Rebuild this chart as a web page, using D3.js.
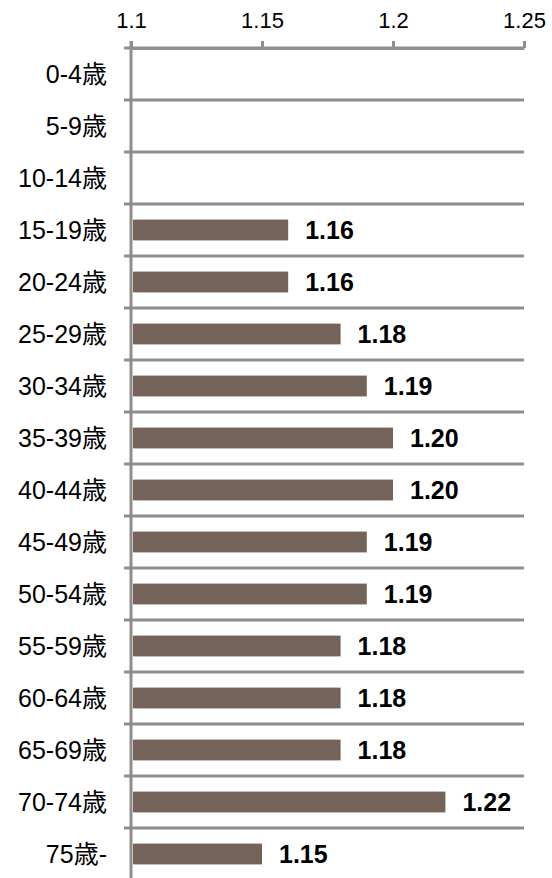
<!DOCTYPE html>
<html>
<head>
<meta charset="utf-8">
<script src="https://cdn.jsdelivr.net/npm/d3@7"></script>
<style>
  body { margin: 0; background: #fff; }
  text { font-family: "Liberation Sans", Arial, "Noto Sans CJK JP", sans-serif; fill: #000; }
</style>
</head>
<body>
<svg id="chart" width="552" height="878"></svg>
<script>
/* age groups, top to bottom */
var ageGroups = ["0-4歳", "5-9歳", "10-14歳", "15-19歳", "20-24歳", "25-29歳", "30-34歳",
  "35-39歳", "40-44歳", "45-49歳", "50-54歳", "55-59歳", "60-64歳", "65-69歳", "70-74歳", "75歳-"];
/* ratio per age group (no bar for the first three) */
var ratios = [null, null, null, 1.16, 1.16, 1.18, 1.19, 1.20, 1.20, 1.19, 1.19, 1.18, 1.18, 1.18, 1.22, 1.15];
var xTicks = [1.1, 1.15, 1.2, 1.25];

var svg = d3.select("#chart");
var gridColor = "#8e8e8e";

var x = d3.scaleLinear().domain([1.1, 1.25]).range([131, 524]);
var y = d3.scaleBand().domain(ageGroups).range([48, 880])
    .paddingInner(0.6).paddingOuter(0.3);

var rows = ageGroups.map(function(g, i) { return {group: g, value: ratios[i]}; });

/* horizontal lines between categories */
svg.append("g").selectAll("line")
  .data(ageGroups)
  .enter().append("line")
    .attr("x1", 124)
    .attr("x2", x(1.25))
    .attr("y1", function(d) { return y(d) - y.step() * y.paddingOuter(); })
    .attr("y2", function(d) { return y(d) - y.step() * y.paddingOuter(); })
    .attr("stroke", gridColor)
    .attr("stroke-width", 3);

/* top axis */
var xAxis = svg.append("g")
    .attr("transform", "translate(0,48)")
    .call(d3.axisTop(x).tickValues(xTicks).tickSize(7).tickSizeOuter(0)
      .tickFormat(function(d) { return String(d); }));
xAxis.select(".domain").attr("stroke", gridColor).attr("stroke-width", 3);
xAxis.selectAll(".tick line").attr("stroke", gridColor).attr("stroke-width", 3);
xAxis.selectAll(".tick text")
    .attr("y", -20)
    .attr("dy", 0)
    .style("font-size", "22px")
    .style("font-family", "'Liberation Sans', Arial, sans-serif")
    .attr("fill", "#000");

/* bars */
svg.append("g").selectAll("rect")
  .data(rows.filter(function(d) { return d.value != null; }))
  .enter().append("rect")
    .attr("x", x(1.1) + 2)
    .attr("y", function(d) { return y(d.group); })
    .attr("width", function(d) { return x(d.value) - x(1.1) - 2; })
    .attr("height", y.bandwidth())
    .attr("fill", "#736358");

/* left axis line */
svg.append("line")
    .attr("x1", x(1.1)).attr("x2", x(1.1))
    .attr("y1", 41).attr("y2", 880)
    .attr("stroke", gridColor)
    .attr("stroke-width", 3);

/* category labels */
svg.append("g").selectAll("text")
  .data(rows)
  .enter().append("text")
    .attr("x", 107)
    .attr("y", function(d) { return y(d.group) + y.bandwidth() / 2; })
    .attr("dy", "0.35em")
    .attr("text-anchor", "end")
    .style("font-size", "25px")
    .text(function(d) { return d.group; });

/* value labels */
svg.append("g").selectAll("text")
  .data(rows.filter(function(d) { return d.value != null; }))
  .enter().append("text")
    .attr("x", function(d) { return x(d.value) + 17; })
    .attr("y", function(d) { return y(d.group) + y.bandwidth() / 2; })
    .attr("dy", "0.36em")
    .style("font-size", "25px")
    .style("font-weight", "bold")
    .text(function(d) { return d3.format(".2f")(d.value); });
</script>
</body>
</html>
